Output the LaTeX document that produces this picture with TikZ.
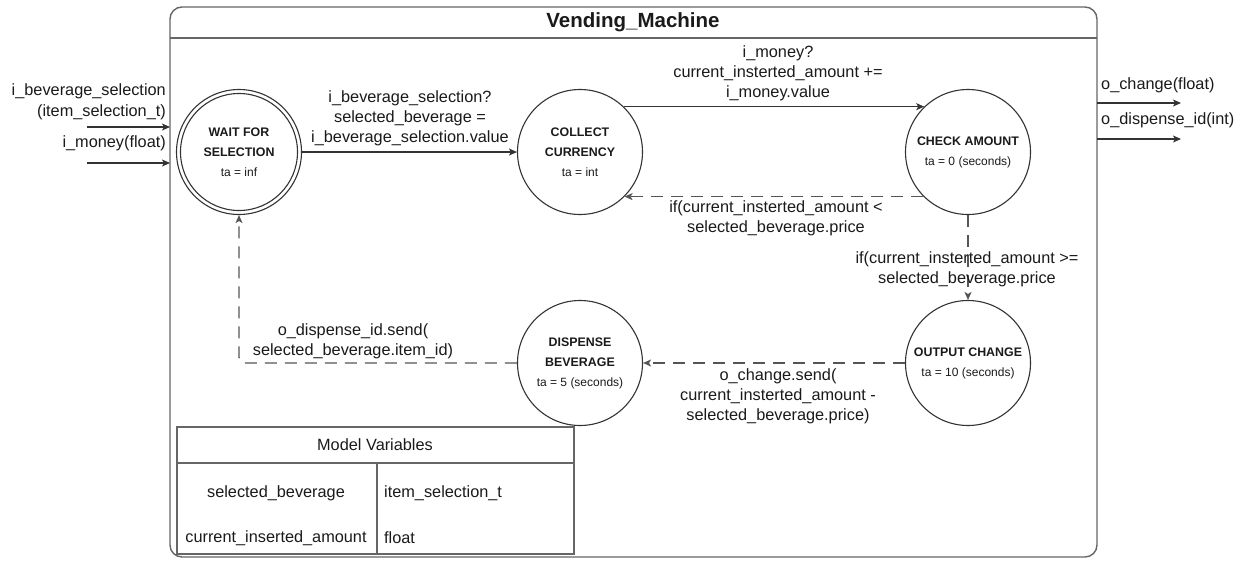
\documentclass[tikz,border=0pt]{standalone}
\usepackage{fontspec}
\setmainfont{Liberation Sans}
\usetikzlibrary{arrows.meta}
\definecolor{txt}{HTML}{1A1A1A}
\definecolor{ln}{HTML}{333333}
\definecolor{dln}{HTML}{555555}
\definecolor{frame}{HTML}{666666}
\newcommand{\tafont}{\fontsize{12}{14}\selectfont\mdseries}
\tikzset{
  state/.style={circle, draw=ln, line width=1.1pt, minimum size=125pt, inner sep=0pt, align=center, text=txt, font=\fontsize{12.4}{20}\selectfont\bfseries},
  lbl/.style={align=center, text=txt, inner sep=0pt, font=\fontsize{16.3}{20}\selectfont},
  lblr/.style={anchor=east, text=txt, inner sep=0pt, font=\fontsize{16.3}{20}\selectfont},
  lbll/.style={anchor=west, text=txt, inner sep=0pt, font=\fontsize{16.3}{20}\selectfont},
  conn/.style={draw=ln, line width=1.2pt, -{Stealth[length=8pt,width=7pt,inset=2pt]}},
  dconn/.style={conn, draw=dln, line width=1.3pt, dash pattern=on 12pt off 8pt}
}
\begin{document}
\begin{tikzpicture}[x=1pt,y=-1pt]
\useasboundingbox (0,0) rectangle (1248,560);
% outer frame
\draw[frame, line width=1.4pt, rounded corners=12pt] (170,7) rectangle (1097,557);
\draw[frame, line width=1.4pt] (170,38) -- (1097,38);
\node[text=txt, font=\fontsize{20.5}{24}\selectfont\bfseries] (title) at (633,22) {Vending\_Machine};

% states
\node[state] (wait) at (239,152) {WAIT FOR\\SELECTION\\{\tafont ta = inf}};
\draw[ln, line width=1.1pt] (wait.center) circle (58.5pt);
\node[state] (collect) at (580,152) {COLLECT\\CURRENCY\\{\tafont ta = int}};
\node[state] (check) at (968,152) {CHECK AMOUNT\\{\tafont ta = 0 (seconds)}};
\node[state] (output) at (968,363) {OUTPUT CHANGE\\{\tafont ta = 10 (seconds)}};
\node[state] (dispense) at (580,363) {DISPENSE\\BEVERAGE\\{\tafont ta = 5 (seconds)}};

% transitions
\draw[conn] (wait.east) -- (collect.west);
\node[lbl] (l1) at (410,118) {i\_beverage\_selection?\\selected\_beverage =\\i\_beverage\_selection.value};
\draw[conn] (collect.46) -- (check.134);
\node[lbl] (l2) at (778,73) {i\_money?\\current\_insterted\_amount +=\\i\_money.value};
\draw[dconn] (check.-135) -- (collect.-45);
\node[lbl] (l3) at (776,218) {if(current\_insterted\_amount <\\selected\_beverage.price};
\draw[dconn] (check.south) -- (output.north);
\node[lbl] (l4) at (967,269) {if(current\_insterted\_amount >=\\selected\_beverage.price};
\draw[dconn] (output.west) -- (dispense.east);
\node[lbl] (l5) at (778,396) {o\_change.send(\\current\_insterted\_amount -\\selected\_beverage.price)};
\draw[dconn, rounded corners=6pt] (dispense.west) -| (wait.south);
\node[lbl] (l6) at (353,341) {o\_dispense\_id.send(\\selected\_beverage.item\_id)};

% inputs
\coordinate (in1s) at (87,127); \coordinate (in1e) at (170,127);
\coordinate (in2s) at (87,163); \coordinate (in2e) at (170,163);
\draw[conn] (in1s) -- (in1e);
\draw[conn] (in2s) -- (in2e);
\node[lblr] (i1) at (166,91) {i\_beverage\_selection};
\node[lblr] (i2) at (166,112) {(item\_selection\_t)};
\node[lblr] (i3) at (166,143) {i\_money(float)};

% outputs
\coordinate (o1s) at (1097,103); \coordinate (o1e) at (1181,103);
\coordinate (o2s) at (1097,139); \coordinate (o2e) at (1181,139);
\draw[conn] (o1s) -- (o1e);
\draw[conn] (o2s) -- (o2e);
\node[lbll] (p1) at (1101,85) {o\_change(float)};
\node[lbll] (p2) at (1101,120) {o\_dispense\_id(int)};

% model variables table
\draw[frame, line width=1.3pt] (177,427) rectangle (574,554);
\draw[frame, line width=1.3pt] (177,463) -- (574,463);
\draw[frame, line width=1.3pt] (377,463) -- (377,554);
\node[lbl] (mv) at (375,445) {Model Variables};
\node[lbl] (v1) at (276,493) {selected\_beverage};
\node[lbl] (v2) at (276,538) {current\_inserted\_amount};
\node[lbll] (t1) at (384,493) {item\_selection\_t};
\node[lbll] (t2) at (384,538) {float};
\end{tikzpicture}
\end{document}
